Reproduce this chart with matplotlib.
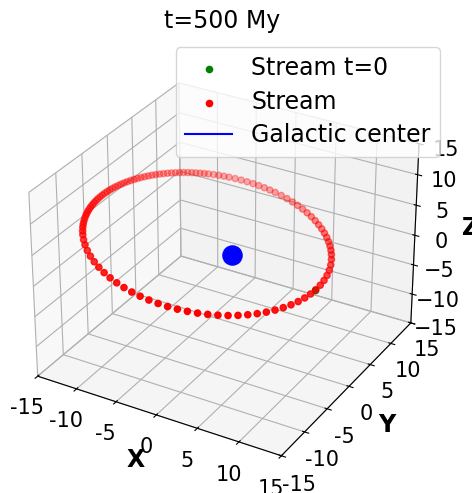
import matplotlib
matplotlib.use("Agg")
import matplotlib.pyplot as plt
from matplotlib.lines import Line2D
import numpy as np

# stream particles: phase angle along the orbit (deg)
# (dense at the back-left, sparse in front)
STREAM_ANG = [30, 33.5, 37, 40.5, 44, 47.5, 51, 54.5, 58, 61.5, 65, 68.5, 72, 75.5,
              79, 82.5, 86, 89, 92, 95, 98, 101, 104, 107, 110, 112.5, 115, 117.5,
              120, 122, 124, 126, 128, 130, 132, 134, 136, 138, 140, 142, 144, 146,
              148, 150, 152, 154, 156, 158, 160, 162, 164, 166, 168, 170, 172, 174,
              176, 178, 180, 182, 184, 186, 188, 190, 192, 194, 196, 198, 200, 202.5,
              205, 207.5, 210, 213, 216, 220, 224, 228.5, 233, 237.5, 242, 246.5,
              251, 255.5, 260, 264.5, 269, 273.5, 278, 282.5, 287, 291.5, 296,
              300.5, 305, 309.5, 314, 318.5, 323, 327.5, 332, 336.5, 341, 345.5,
              350, 354.5, 359, 3.5, 8, 12.5, 17, 21.5, 26]
START_ANG = [358.5]          # stream at t=0 (hidden under the red dots)
ORBIT_R = 13.4               # orbit radius
ORBIT_C = (-2.8, 0.5, 1.8)   # orbit centre
ORBIT_TILT = (-0.2, 0.01)    # dz/dx, dz/dy of the orbit plane
CENTER = ([0.5], [0.0], [1.0])

TICKS = [-15, -10, -5, 0, 5, 10, 15]
TICKLAB = ["-15", "-10", "-5", "0", "5", "10", "15"]


def orbit(ang):
    a = np.radians(ang)
    dx, dy = ORBIT_R * np.cos(a), ORBIT_R * np.sin(a)
    z = ORBIT_C[2] + ORBIT_TILT[0] * dx + ORBIT_TILT[1] * dy
    return ORBIT_C[0] + dx, ORBIT_C[1] + dy, z


fig = plt.figure(figsize=(4.72, 4.93), dpi=100)
ax = fig.add_axes([0.0, 0.02, 0.94, 0.88], projection="3d")
ax.computed_zorder = False

x0, y0, z0 = orbit(START_ANG)
ax.scatter(x0, y0, z0, c="green", s=20, label="Stream t=0", zorder=1)
xs, ys, zs = orbit(STREAM_ANG)
ax.scatter(xs, ys, zs, c="red", s=20, label="Stream", zorder=2)
ax.scatter(*CENTER, c="blue", s=190, depthshade=False, zorder=3)

ax.set_xlim(-15, 15); ax.set_ylim(-15, 15); ax.set_zlim(-15, 15)
ax.set_xticks(TICKS); ax.set_xticklabels(TICKLAB)
ax.set_yticks(TICKS); ax.set_yticklabels(TICKLAB)
ax.set_zticks(TICKS)
ax.tick_params(labelsize=15)
ax.set_xlabel("X", fontsize=17, fontweight="bold", labelpad=2)
ax.set_ylabel("Y", fontsize=17, fontweight="bold", labelpad=4)
ax.set_zlabel("Z", fontsize=17, fontweight="bold")
ax.set_title("t=500 My", fontsize=17, pad=15)

h, l = ax.get_legend_handles_labels()
h.append(Line2D([], [], color="blue"))
l.append("Galactic center")
ax.legend(h, l, loc="upper right", fontsize=17, borderaxespad=0, labelspacing=0.4,
          bbox_to_anchor=(0.932, 0.905), bbox_transform=fig.transFigure)

fig.savefig("out.png", dpi=100)
